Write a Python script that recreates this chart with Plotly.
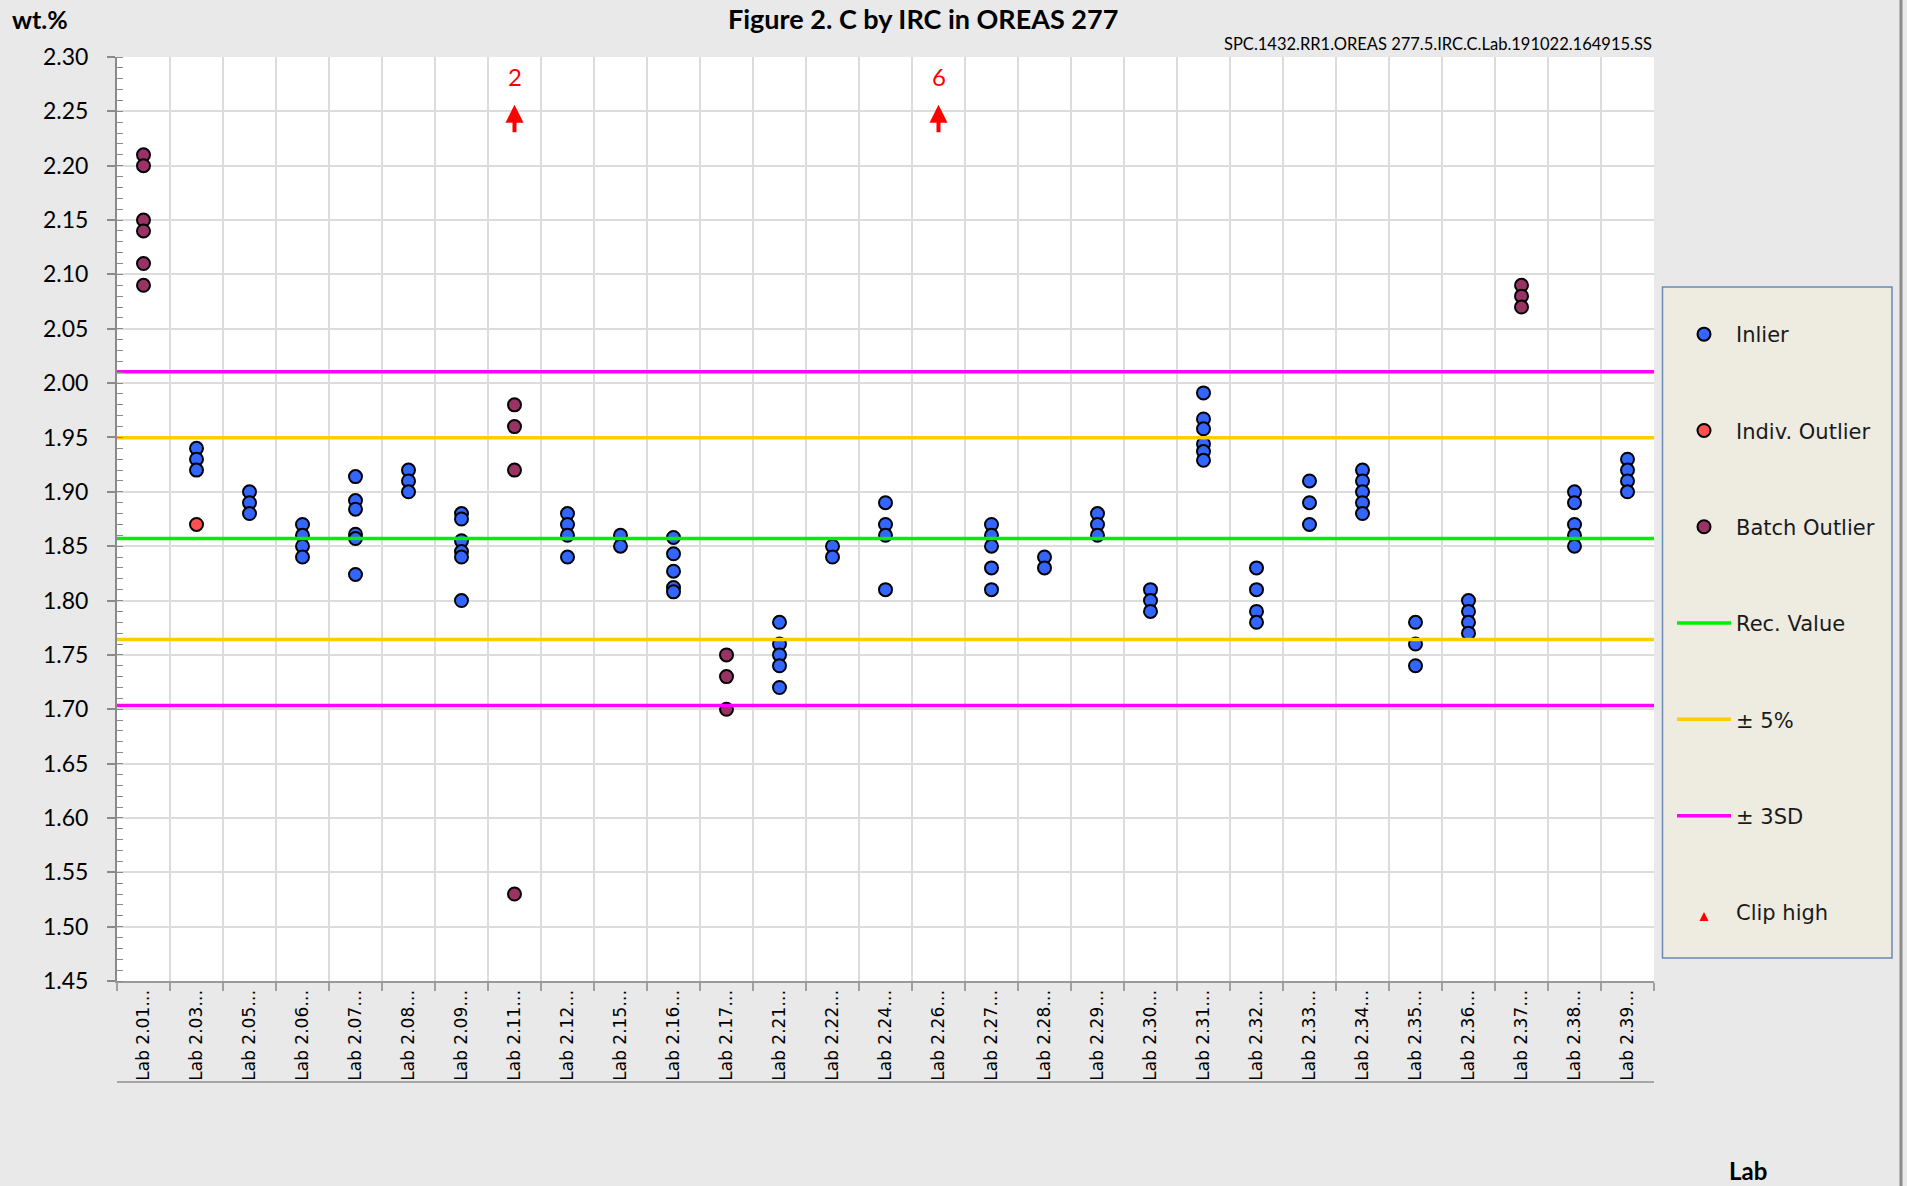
import plotly.graph_objects as go

# ---------------- data ----------------
labs = ["Lab 2.01", "Lab 2.03", "Lab 2.05", "Lab 2.06", "Lab 2.07", "Lab 2.08", "Lab 2.09",
        "Lab 2.11", "Lab 2.12", "Lab 2.15", "Lab 2.16", "Lab 2.17", "Lab 2.21", "Lab 2.22",
        "Lab 2.24", "Lab 2.26", "Lab 2.27", "Lab 2.28", "Lab 2.29", "Lab 2.30", "Lab 2.31",
        "Lab 2.32", "Lab 2.33", "Lab 2.34", "Lab 2.35", "Lab 2.36", "Lab 2.37", "Lab 2.38",
        "Lab 2.39"]
tick_labels = [lab + "…" for lab in labs]

inlier_values = [
    [],                                          # 2.01
    [1.94, 1.93, 1.92],                          # 2.03
    [1.90, 1.89, 1.88],                          # 2.05
    [1.87, 1.86, 1.85, 1.84],                    # 2.06
    [1.914, 1.892, 1.884, 1.861, 1.857, 1.824],  # 2.07
    [1.92, 1.91, 1.90],                          # 2.08
    [1.88, 1.875, 1.855, 1.845, 1.84, 1.80],     # 2.09
    [],                                          # 2.11
    [1.88, 1.87, 1.86, 1.84],                    # 2.12
    [1.86, 1.85],                                # 2.15
    [1.858, 1.843, 1.827, 1.812, 1.808],         # 2.16
    [],                                          # 2.17
    [1.78, 1.76, 1.75, 1.74, 1.72],              # 2.21
    [1.85, 1.84],                                # 2.22
    [1.89, 1.87, 1.86, 1.81],                    # 2.24
    [],                                          # 2.26
    [1.87, 1.86, 1.85, 1.83, 1.81],              # 2.27
    [1.84, 1.83],                                # 2.28
    [1.88, 1.87, 1.86],                          # 2.29
    [1.81, 1.80, 1.79],                          # 2.30
    [1.991, 1.967, 1.958, 1.944, 1.937, 1.929],  # 2.31
    [1.83, 1.81, 1.79, 1.78],                    # 2.32
    [1.91, 1.89, 1.87],                          # 2.33
    [1.92, 1.91, 1.90, 1.89, 1.88],              # 2.34
    [1.78, 1.76, 1.74],                          # 2.35
    [1.80, 1.79, 1.78, 1.77],                    # 2.36
    [],                                          # 2.37
    [1.90, 1.89, 1.87, 1.86, 1.85],              # 2.38
    [1.93, 1.92, 1.91, 1.90],                    # 2.39
]

indiv_outlier_labs = ["Lab 2.03"]
indiv_outlier_values = [1.87]

batch_outlier_labs = ["Lab 2.01"] * 6 + ["Lab 2.11"] * 4 + ["Lab 2.17"] * 3 + ["Lab 2.37"] * 3
batch_outlier_values = [2.21, 2.20, 2.15, 2.14, 2.11, 2.09,
                        1.98, 1.96, 1.92, 1.53,
                        1.75, 1.73, 1.70,
                        2.09, 2.08, 2.07]

clip_high_labs = ["Lab 2.11", "Lab 2.26"]
clip_high_counts = [2, 6]

rec_value = 1.857
pct_band = 0.05
sd3 = 0.1535

y_min, y_max, y_step = 1.45, 2.30, 0.05
y_title = "wt.%"
x_title = "Lab"
title = "Figure 2. C by IRC in OREAS 277"
subtitle = "SPC.1432.RR1.OREAS 277.5.IRC.C.Lab.191022.164915.SS"

# ---------------- layout geometry (pixels) ----------------
FW, FH = 1907, 1186
L, R, T, B = 117, 1654, 57, 981
PW, PH = R - L, B - T


def px(xp):
    return (xp - L) / PW


def py(yp):
    return (B - yp) / PH


CAL = "Lato, 'Liberation Sans', sans-serif"
VER = "'DejaVu Sans', Verdana, sans-serif"

BLUE = "#3366FF"
RED = "#FF5050"
MAROON = "#993366"
GREEN = "#00F000"
GOLD = "#FFCC00"
MAGENTA = "#FF00FF"

# flatten inliers
in_x, in_y = [], []
for lab, vals in zip(labs, inlier_values):
    for v in vals:
        in_x.append(lab)
        in_y.append(v)

marker_line = dict(color="black", width=2)
MS = 13

fig = go.Figure()

fig.add_trace(go.Scatter(x=in_x, y=in_y, mode="markers", name="Inlier",
                         legendgroup="a",
                         marker=dict(size=MS, color=BLUE, line=marker_line)))
fig.add_trace(go.Scatter(x=indiv_outlier_labs, y=indiv_outlier_values, mode="markers",
                         name="Indiv. Outlier", legendgroup="b",
                         marker=dict(size=MS, color=RED, line=marker_line)))
fig.add_trace(go.Scatter(x=batch_outlier_labs, y=batch_outlier_values, mode="markers",
                         name="Batch Outlier", legendgroup="c",
                         marker=dict(size=MS, color=MAROON, line=marker_line)))

# reference lines on an overlaid numeric axis spanning the full plot width
fig.add_trace(go.Scatter(x=[0, 1], y=[rec_value, rec_value], mode="lines",
                         name="Rec. Value", legendgroup="d", xaxis="x2",
                         line=dict(color=GREEN, width=3.5)))
hi5, lo5 = rec_value * (1 + pct_band), rec_value * (1 - pct_band)
fig.add_trace(go.Scatter(x=[0, 1, None, 0, 1], y=[hi5, hi5, None, lo5, lo5], mode="lines",
                         name="± 5%", legendgroup="e", xaxis="x2",
                         line=dict(color=GOLD, width=3.5)))
hi3, lo3 = rec_value + sd3, rec_value - sd3
fig.add_trace(go.Scatter(x=[0, 1, None, 0, 1], y=[hi3, hi3, None, lo3, lo3], mode="lines",
                         name="± 3SD", legendgroup="f", xaxis="x2",
                         line=dict(color=MAGENTA, width=3.5)))
fig.add_trace(go.Scatter(x=[None], y=[None], mode="markers", name="Clip high",
                         legendgroup="g",
                         marker=dict(symbol="arrow-up", size=9, color="red")))

annotations = []
clip_arrow_tip = y_max - 0.044
clip_text_level = y_max - 0.018
for lab, cnt in zip(clip_high_labs, clip_high_counts):
    annotations.append(dict(x=lab, y=clip_arrow_tip, xref="x", yref="y", ax=0, ay=29,
                            showarrow=True, arrowhead=2, arrowsize=0.9, arrowwidth=4,
                            arrowcolor="red", text=""))
    annotations.append(dict(x=lab, y=clip_text_level, xref="x", yref="y", showarrow=False,
                            text=str(cnt), font=dict(family=CAL, size=24, color="red")))

annotations += [
    dict(x=px(923), y=py(0), xref="paper", yref="paper", xanchor="center", yanchor="top",
         text="<b>" + title + "</b>", showarrow=False,
         font=dict(family=CAL, size=27, color="black")),
    dict(x=px(R), y=py(44), xref="paper", yref="paper", xanchor="right", yanchor="middle",
         text=subtitle, showarrow=False, font=dict(family=CAL, size=16.5, color="black")),
    dict(x=px(10), y=py(19), xref="paper", yref="paper", xanchor="left", yanchor="middle",
         text="<b>" + y_title + "</b>", showarrow=False,
         font=dict(family=CAL, size=25, color="black")),
    dict(x=px(1748), y=py(1170), xref="paper", yref="paper", xanchor="center", yanchor="middle",
         text="<b>" + x_title + "</b>", showarrow=False,
         font=dict(family=CAL, size=24, color="black")),
]

shapes = [
    # legend box
    dict(type="rect", xref="paper", yref="paper", x0=px(1662.5), x1=px(1892), y0=py(958), y1=py(287),
         fillcolor="#EEEBE1", line=dict(color="#6A89B3", width=1.5), layer="below"),
    # line under category labels
    dict(type="line", xref="paper", yref="paper", x0=0, x1=1, y0=py(1082), y1=py(1082),
         line=dict(color="#A6A6A6", width=2)),
    # right frame edge
    dict(type="line", xref="paper", yref="paper", x0=px(1901), x1=px(1901), y0=py(FH), y1=py(0),
         line=dict(color="#8C8C8C", width=3)),
]

fig.update_layout(
    width=FW, height=FH,
    margin=dict(l=L, r=FW - R, t=T, b=FH - B, pad=0),
    paper_bgcolor="#E9E9E9",
    plot_bgcolor="white",
    font=dict(family=CAL, size=20, color="black"),
    showlegend=True,
    legend=dict(x=px(1672), y=py(314), xanchor="left", yanchor="top",
                bgcolor="rgba(0,0,0,0)", borderwidth=0,
                font=dict(family=VER, size=21, color="#1A1A1A"),
                traceorder="grouped", tracegroupgap=66, itemwidth=54),
    xaxis=dict(type="category", categoryorder="array", categoryarray=labs,
               tickmode="array", tickvals=labs, ticktext=tick_labels,
               tickangle=-90, tickson="boundaries", ticks="outside", ticklen=8,
               tickcolor="#A0A0A0", tickwidth=1.5,
               showgrid=True, gridcolor="#DCDCDC", gridwidth=1.5,
               showline=True, linecolor="#9A9A9A", linewidth=2,
               tickfont=dict(family=VER, size=17, color="black"),
               range=[-0.5, len(labs) - 0.5], zeroline=False),
    xaxis2=dict(overlaying="x", range=[0, 1], visible=False, showgrid=False, zeroline=False),
    yaxis=dict(range=[y_min, y_max], dtick=y_step, tick0=y_min, tickformat=".2f",
               ticks="outside", ticklen=8, tickcolor="#8A8A8A", tickwidth=1.5,
               showgrid=True, gridcolor="#DCDCDC", gridwidth=1.5,
               showline=True, linecolor="#8A8A8A", linewidth=2, zeroline=False,
               tickfont=dict(family=CAL, size=23, color="black"),
               ticklabelstandoff=14,
               minor=dict(dtick=0.01, ticks="inside", ticklen=6, tickcolor="#8A8A8A",
                          tickwidth=1.2, showgrid=False)),
    annotations=annotations,
    shapes=shapes,
)

fig.write_html("out.html",
               config={"displayModeBar": False},
               post_script="document.body.style.margin='0';document.body.style.padding='0';"
                           "document.body.style.overflow='hidden';")
